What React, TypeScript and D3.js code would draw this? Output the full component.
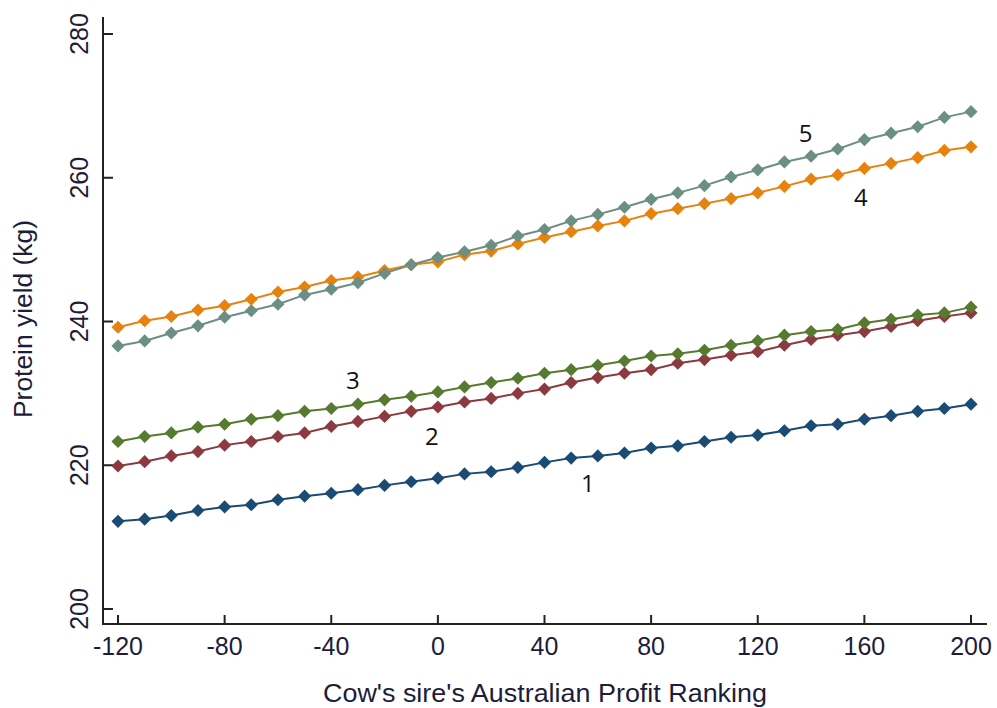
import React from "react";
import * as d3 from "d3";

const xValues = [-120,-110,-100,-90,-80,-70,-60,-50,-40,-30,-20,-10,0,10,20,30,40,50,60,70,80,90,100,110,120,130,140,150,160,170,180,190,200];

const series1 = [212.2,212.5,213.0,213.7,214.2,214.5,215.2,215.7,216.1,216.6,217.2,217.7,218.2,218.8,219.1,219.7,220.4,221.0,221.3,221.7,222.4,222.7,223.3,223.9,224.2,224.8,225.5,225.7,226.4,226.9,227.5,227.9,228.5];
const series2 = [219.9,220.5,221.3,221.9,222.8,223.3,224.0,224.5,225.4,226.1,226.8,227.5,228.1,228.8,229.3,230.0,230.6,231.5,232.2,232.8,233.3,234.2,234.7,235.3,235.8,236.7,237.5,238.1,238.6,239.3,240.1,240.7,241.2];
const series3 = [223.3,224.0,224.5,225.3,225.7,226.4,226.9,227.5,227.9,228.5,229.1,229.6,230.2,230.9,231.5,232.1,232.8,233.3,233.9,234.5,235.2,235.5,236.0,236.7,237.3,238.1,238.6,238.9,239.8,240.3,240.9,241.2,242.0];
const series4 = [239.2,240.1,240.7,241.6,242.2,243.1,244.1,244.8,245.7,246.2,247.1,247.9,248.3,249.3,249.8,250.8,251.7,252.5,253.3,254.0,255.0,255.7,256.4,257.1,257.9,258.8,259.8,260.4,261.3,262.0,262.8,263.8,264.3];
const series5 = [236.6,237.3,238.4,239.4,240.6,241.5,242.4,243.7,244.5,245.4,246.7,247.9,248.9,249.7,250.6,251.9,252.8,254.0,254.9,255.9,257.0,257.9,258.9,260.1,261.1,262.2,263.0,264.0,265.3,266.2,267.1,268.4,269.2];

const seriesNames = ["1","2","3","4","5"];
const seriesData = [series1, series2, series3, series4, series5];
const seriesColors = ["#1b4a73","#8c3a40","#567a2f","#e8820e","#6b8f82"];
// label anchor positions (data coords, baseline)
const labelX = [56.3, -2.3, -31.9, 158.7, 138];
const labelY = [216.3, 222.8, 230.6, 256.1, 265.0];

const xTicks = [-120,-80,-40,0,40,80,120,160,200];
const yTicks = [200,220,240,260,280];

export default function App() {
  const x = d3.scaleLinear().domain([-120, 200]).range([118, 971]);
  const y = d3.scaleLinear().domain([200, 280]).range([609, 34]);
  const line = d3.line<number>().x((_, i) => x(xValues[i])).y(d => y(d));
  const diamond = d3.symbol().type(d3.symbolDiamond2).size(110)();
  const axisColor = "#222";
  const textColor = "#1d1d3a";
  const font = "'Liberation Sans', Arial, sans-serif";

  return (
    <svg width={997} height={708} style={{ position: "absolute", left: 0, top: 0, background: "#fff" }}>
      <rect x={0} y={0} width={997} height={708} fill="#fff" />
      {/* axes */}
      <line x1={103} y1={17} x2={103} y2={624} stroke={axisColor} strokeWidth={2} />
      <line x1={102} y1={624} x2={987} y2={624} stroke={axisColor} strokeWidth={2} />
      {yTicks.map(t => (
        <g key={"yt" + t}>
          <line x1={103} x2={113} y1={y(t)} y2={y(t)} stroke={axisColor} strokeWidth={2} />
          <text
            transform={`translate(${88},${y(t)}) rotate(-90)`}
            textAnchor="middle"
            fontFamily={font}
            fontSize={25}
            fill={textColor}
          >{t}</text>
        </g>
      ))}
      {xTicks.map(t => (
        <g key={"xt" + t}>
          <line x1={x(t)} x2={x(t)} y1={624} y2={615} stroke={axisColor} strokeWidth={2} />
          <text x={x(t)} y={655} textAnchor="middle" fontFamily={font} fontSize={25} fill={textColor}>{t}</text>
        </g>
      ))}
      <text x={545} y={702} textAnchor="middle" fontFamily={font} fontSize={25} fill={textColor} textLength={444} lengthAdjust="spacingAndGlyphs">
        Cow's sire's Australian Profit Ranking
      </text>
      <text
        transform={`translate(32,319) rotate(-90)`}
        textAnchor="middle"
        fontFamily={font}
        fontSize={25}
        fill={textColor}
        textLength={198}
        lengthAdjust="spacingAndGlyphs"
      >Protein yield (kg)</text>
      {/* series */}
      {seriesData.map((s, si) => (
        <g key={"s" + si}>
          <path d={line(s) || ""} fill="none" stroke={seriesColors[si]} strokeWidth={2} />
          {s.map((v, i) => (
            <path key={i} d={diamond || ""} transform={`translate(${x(xValues[i])},${y(v)})`} fill={seriesColors[si]} />
          ))}
        </g>
      ))}
      {seriesNames.map((n, i) => (
        <text key={"lab" + n} x={x(labelX[i])} y={y(labelY[i])} textAnchor="middle" fontFamily="'Open Sans', 'Noto Sans', sans-serif" fontSize={24} fill="#111">
          {n}
        </text>
      ))}
    </svg>
  );
}
